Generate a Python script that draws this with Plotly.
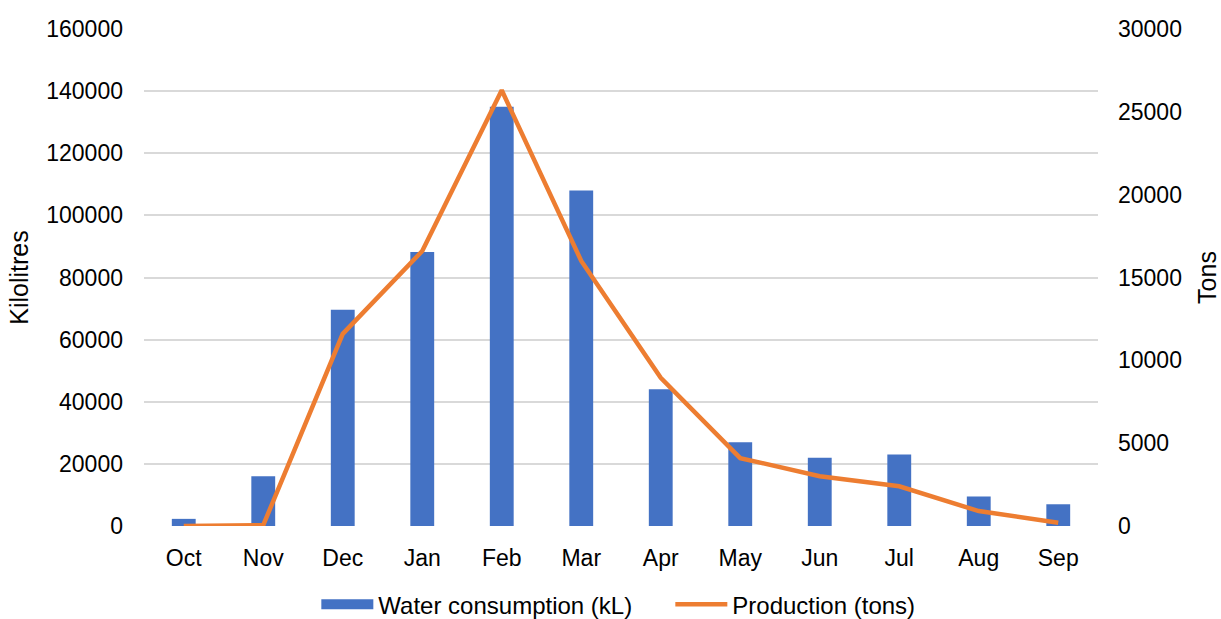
import plotly.graph_objects as go

months = ["Oct", "Nov", "Dec", "Jan", "Feb", "Mar", "Apr", "May", "Jun", "Jul", "Aug", "Sep"]
water_kl = [2300, 16000, 69600, 88200, 135000, 108000, 44000, 27000, 22000, 23000, 9500, 7000]
production_tons = [0, 50, 11600, 16600, 26300, 16000, 8950, 4100, 3000, 2400, 900, 200]

left_ticks = [0, 20000, 40000, 60000, 80000, 100000, 120000, 140000, 160000]
right_ticks = [0, 5000, 10000, 15000, 20000, 25000, 30000]

font_family = "Liberation Sans, Arial, sans-serif"
grid_col = "#D9D9D9"
bar_col = "#4472C4"
line_col = "#ED7D31"

fig = go.Figure()
fig.add_trace(go.Bar(
    x=months, y=water_kl, name="Water consumption (kL)",
    marker=dict(color=bar_col, line=dict(width=0)),
    yaxis="y", showlegend=False, legendgroup="water",
))
# legend entry for the bars drawn as a wide swatch
fig.add_trace(go.Scatter(
    x=[None], y=[None], name="Water consumption (kL)", mode="lines",
    line=dict(color=bar_col, width=13), legendgroup="water", yaxis="y",
))
fig.add_trace(go.Scatter(
    x=months, y=production_tons, name="Production (tons)",
    mode="lines", line=dict(color=line_col, width=4.5),
    yaxis="y2",
))

fig.update_layout(
    width=1221, height=619,
    margin=dict(l=144, r=123, t=29, b=93, autoexpand=False),
    paper_bgcolor="white", plot_bgcolor="white",
    font=dict(family=font_family, size=23, color="#000000"),
    bargap=0.7,
    showlegend=True,
    legend=dict(
        orientation="h", xref="container", yref="container",
        x=0.549, xanchor="center", y=0.023, yanchor="middle",
        font=dict(size=24), traceorder="normal", entrywidth=287, itemwidth=52,
    ),
    xaxis=dict(
        showgrid=False, showline=False, ticks="", zeroline=False,
        tickfont=dict(size=23), ticklabelstandoff=16,
    ),
    yaxis=dict(
        range=[0, 160000], tickvals=left_ticks, ticktext=[str(v) for v in left_ticks],
        showgrid=True, gridcolor=grid_col, gridwidth=1.5, zeroline=False,
        showline=False, ticks="", tickfont=dict(size=23), ticklabelstandoff=20,
        title=dict(text="Kilolitres", font=dict(size=25), standoff=10),
    ),
    yaxis2=dict(
        range=[0, 30000], tickvals=right_ticks, ticktext=[str(v) for v in right_ticks],
        overlaying="y", side="right", showgrid=False, zeroline=False,
        showline=False, ticks="", tickfont=dict(size=23), ticklabelstandoff=19,
        title=dict(text="Tons", font=dict(size=25), standoff=18),
    ),
)

fig.write_html("out.html")
